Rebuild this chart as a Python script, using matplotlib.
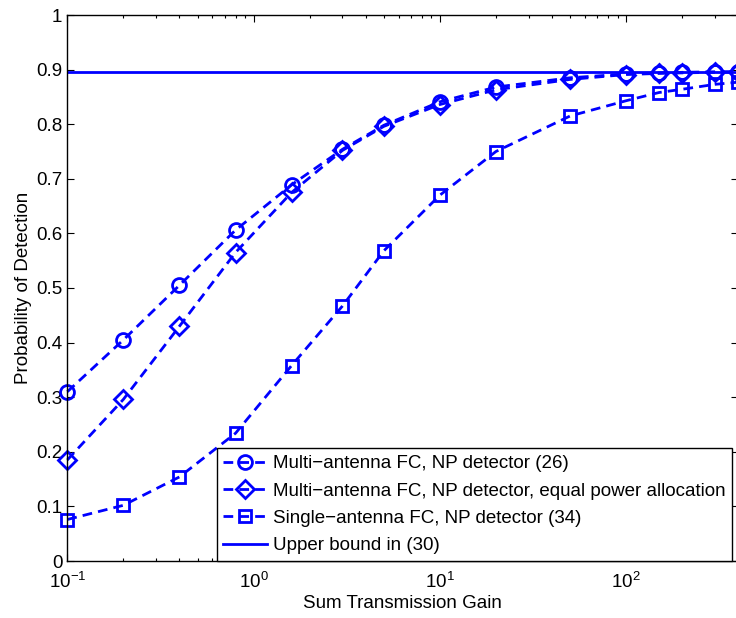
import matplotlib
matplotlib.use("Agg")
import matplotlib.pyplot as plt
from matplotlib.ticker import LogLocator

plt.rcParams['font.family'] = ['Liberation Sans', 'DejaVu Sans']
plt.rcParams['mathtext.fontset'] = 'custom'
plt.rcParams['mathtext.rm'] = 'Liberation Sans'
plt.rcParams['mathtext.it'] = 'Liberation Sans'
plt.rcParams['mathtext.default'] = 'regular'

# data
gain = [0.1, 0.2, 0.4, 0.8, 1.6, 3, 5, 10, 20, 50, 100, 150, 200, 300, 400]
pd_multi = [0.310, 0.405, 0.505, 0.606, 0.689, 0.754, 0.798, 0.841, 0.868,
            0.885, 0.892, 0.894, 0.895, 0.896, 0.896]
pd_equal = [0.185, 0.296, 0.430, 0.565, 0.675, 0.752, 0.796, 0.836, 0.863,
            0.882, 0.891, 0.893, 0.894, 0.895, 0.896]
pd_single = [0.076, 0.102, 0.154, 0.234, 0.358, 0.467, 0.568, 0.670, 0.750,
             0.815, 0.843, 0.858, 0.864, 0.873, 0.877]
upper_bound = 0.895

labels = ['Multi\u2212antenna FC, NP detector (26)',
          'Multi\u2212antenna FC, NP detector, equal power allocation',
          'Single\u2212antenna FC, NP detector (34)',
          'Upper bound in (30)']

fs = 13.5
fig = plt.figure(figsize=(7.36, 6.18), dpi=100)
ax = fig.add_axes([67.3 / 736, 57 / 618, 671 / 736, 546 / 618])

style = dict(color='blue', linestyle='--', linewidth=2, dashes=(3.5, 2.2),
             markerfacecolor='none', markeredgewidth=2, clip_on=False)
ax.plot(gain, pd_multi, marker='o', markersize=10, label=labels[0], **style)
ax.plot(gain, pd_equal, marker='D', markersize=9, label=labels[1], **style)
ax.plot(gain, pd_single, marker='s', markersize=9, label=labels[2], **style)
ax.axhline(upper_bound, color='blue', linewidth=2, label=labels[3])

ax.set_xscale('log')
ax.set_xlim(0.1, 400)
ax.set_ylim(0, 1)
ax.set_yticks([i / 10 for i in range(11)])
ax.set_yticklabels(['0', '0.1', '0.2', '0.3', '0.4', '0.5', '0.6', '0.7', '0.8', '0.9', '1'])
ax.xaxis.set_major_locator(LogLocator(base=10))
ax.xaxis.set_minor_locator(LogLocator(base=10, subs=range(2, 10)))

ax.tick_params(which='both', direction='in', top=True, right=True, labelsize=fs)
ax.tick_params(which='major', length=5, width=0.8)
ax.tick_params(axis='x', which='major', pad=8)
ax.tick_params(which='minor', length=2.5, width=0.8)
for s in ax.spines.values():
    s.set_linewidth(1.0)

ax.set_xlabel('Sum Transmission Gain', fontsize=fs, labelpad=2)
ax.set_ylabel('Probability of Detection', fontsize=fs, labelpad=3)

leg = ax.legend(loc='lower right', bbox_to_anchor=(0.991, 0.0), borderaxespad=0,
                fontsize=fs, fancybox=False, framealpha=1, handlelength=2.3,
                handletextpad=0.35, labelspacing=0.55, borderpad=0.35)
leg.get_frame().set_edgecolor('black')
leg.get_frame().set_linewidth(1.0)

plt.savefig('out.png', dpi=100)
